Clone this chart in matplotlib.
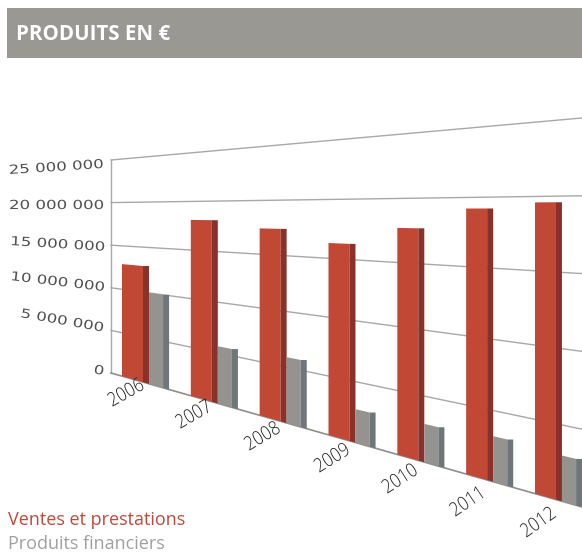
import numpy as np
import matplotlib
matplotlib.use("Agg")
import matplotlib.pyplot as plt
from matplotlib.patches import Polygon, Rectangle
from matplotlib.patheffects import AbstractPathEffect
from matplotlib.transforms import Affine2D, Transform

years = ["2006", "2007", "2008", "2009", "2010", "2011", "2012"]
ventes = [12900000, 18100000, 17400000, 16300000, 17700000, 19200000, 19600000]
financiers = [10000000, 5650000, 5900000, 2750000, 2900000, 3200000, 3000000]
y_ticks = [0, 5000000, 10000000, 15000000, 20000000, 25000000]
y_labels = ["0", "5 000 000", "10 000 000", "15 000 000", "20 000 000", "25 000 000"]

RED, RED_SIDE = "#c24836", "#8a3229"
GREY, GREY_SIDE = "#95938f", "#6e767a"
GRID = "#a8a8a6"


class Perspective(Transform):
    # category index / value -> pixel position, the floor and the top of the chart fan out
    input_dims = 2
    output_dims = 2

    def transform_non_affine(self, values):
        values = np.asarray(values, dtype=float)
        px = 122 + 68.83 * values[:, 0]
        base = 373 + 0.2845 * (px - 111)
        height = 213 + 0.3737 * (px - 111)
        return np.column_stack([px, base - values[:, 1] / 25000000 * height])


class Stretch(AbstractPathEffect):
    # the original labels are wider / narrower than the installed fonts
    def __init__(self, sx):
        super().__init__()
        self.sx = sx

    def draw_path(self, renderer, gc, tpath, affine, rgbFace=None):
        renderer.draw_path(gc, tpath, Affine2D().scale(self.sx, 1) + affine, rgbFace)


fig = plt.figure(figsize=(5.82, 5.53), dpi=100)
ax = fig.add_axes([0, 0, 1, 1])
ax.set_xlim(0, 582)
ax.set_ylim(553, 0)
ax.axis("off")

persp = Perspective()
to_pixels = persp + ax.transData

# bandeau du titre
ax.add_patch(Rectangle((7, 8), 575, 50, facecolor="#9a9893", edgecolor="none"))
ax.text(16, 34, "PRODUITS EN €", color="white", fontsize=14.8, fontweight="bold",
        family="Open Sans", va="center")

# grille
x_left, x_right = -0.16, 6.69
for tick in y_ticks[1:]:
    ax.plot([x_left, x_right], [tick, tick], color=GRID, lw=1, transform=to_pixels, zorder=1)
ax.plot([x_left, x_left], [0, 25000000], color=GRID, lw=1, transform=to_pixels, zorder=1)
ax.plot([x_left, x_right], [0, 0], color="#8f8f8d", lw=1.2, transform=to_pixels, zorder=1)


def draw_bar(x0, width, value, front, side):
    ax.add_patch(Polygon([(x0, 0), (x0 + width, 0), (x0 + width, value), (x0, value)],
                         closed=True, facecolor=front, edgecolor="none",
                         transform=to_pixels, zorder=3))
    # face de coté, le haut reste horizontal
    x1 = x0 + width
    x2 = x1 + 0.087
    (_, top), (px1, bottom_a), (px2, bottom_b) = persp.transform([(x1, value), (x1, 0), (x2, 0)])
    ax.fill([px1, px2, px2, px1], [top, top, bottom_b, bottom_a], color=side, lw=0, zorder=3)


for i in range(len(years)):
    draw_bar(i, 0.305, ventes[i], RED, RED_SIDE)
    draw_bar(i + 0.392, 0.205, financiers[i], GREY, GREY_SIDE)

# étiquettes de l'axe y, alignées comme dans la perspective
label_x = [93, 20, 10, 10, 9, 9]
label_y = [373, 317, 280, 245, 209, 174]
label_rot = [-12, -10, -6.7, -3.5, 0, 3.7]
for text, lx, ly, rot in zip(y_labels, label_x, label_y, label_rot):
    t = ax.text(lx, ly, text, fontsize=9, color="#505050", family="DejaVu Sans", ha="left",
                va="baseline", rotation=rot, rotation_mode="anchor")
    t.set_path_effects([Stretch(1.33)])

# années, le texte est étroit et haut dans l'original
year_x = [112, 180, 249, 319, 387, 455, 526]
year_y = [407, 429, 451, 473, 494, 517, 538]
year_rot = [29, 30, 31, 32, 33, 34, 35]
for text, lx, ly, rot in zip(years, year_x, year_y, year_rot):
    t = ax.text(lx, ly, text, fontsize=14, color="#222222", family="Open Sans", ha="left",
                va="baseline", rotation=rot, rotation_mode="anchor", fontweight="light")
    t.set_path_effects([Stretch(0.86)])

# légende
ax.text(8, 525, "Ventes et prestations", color="#c0483a", fontsize=13, family="Open Sans")
ax.text(8, 549, "Produits financiers", color="#a0a0a0", fontsize=13, family="Open Sans")

fig.savefig("out.png", dpi=100)
